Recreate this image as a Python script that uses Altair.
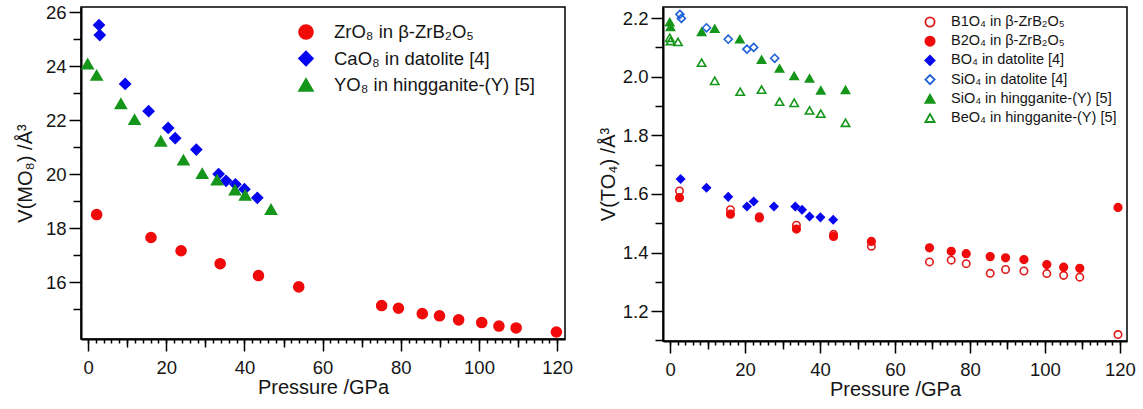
import altair as alt
import pandas as pd

FONT = "Liberation Sans"

# ---------------- Left panel data (MO8 polyhedra) ----------------
left_names = ["ZrO₈ in β-ZrB₂O₅", "CaO₈ in datolite [4]", "YO₈ in hingganite-(Y) [5]"]
zr_p = [2.2, 16.1, 23.8, 33.8, 43.6, 53.9, 75.1, 79.4, 85.5, 89.9, 94.8, 100.7, 105.1, 109.5, 119.8]
zr_v = [18.51, 17.66, 17.17, 16.69, 16.25, 15.83, 15.14, 15.04, 14.84, 14.76, 14.61, 14.51, 14.38, 14.31, 14.16]
ca_p = [2.8, 3.0, 9.5, 15.5, 20.5, 22.3, 27.7, 33.4, 35.3, 37.7, 40.0, 43.3]
ca_v = [25.53, 25.16, 23.35, 22.34, 21.72, 21.34, 20.92, 20.01, 19.76, 19.63, 19.45, 19.13]
yo_p = [-0.1, 2.2, 8.4, 11.9, 18.6, 24.4, 29.2, 33.0, 37.6, 40.2, 46.8]
yo_v = [24.09, 23.67, 22.62, 22.03, 21.23, 20.53, 20.03, 19.79, 19.42, 19.23, 18.70]

# ---------------- Right panel data (TO4 tetrahedra) ----------------
right_names = ["B1O₄ in β-ZrB₂O₅", "B2O₄ in β-ZrB₂O₅", "BO₄ in datolite [4]",
               "SiO₄ in datolite [4]", "SiO₄ in hingganite-(Y) [5]", "BeO₄ in hingganite-(Y) [5]"]
b1_p = [2.5, 16.1, 23.8, 33.7, 43.6, 53.7, 69.2, 75.0, 79.0, 85.4, 89.5, 94.4, 100.5, 105.0, 109.3, 119.5]
b1_v = [1.610, 1.546, 1.522, 1.493, 1.462, 1.421, 1.368, 1.374, 1.362, 1.329, 1.342, 1.337, 1.328, 1.322, 1.316, 1.120]
b2_p = [2.5, 16.1, 23.8, 33.7, 43.6, 53.7, 69.2, 75.0, 79.0, 85.4, 89.5, 94.4, 100.5, 105.0, 109.3, 119.5]
b2_v = [1.587, 1.531, 1.518, 1.480, 1.455, 1.438, 1.416, 1.404, 1.396, 1.386, 1.382, 1.376, 1.359, 1.350, 1.346, 1.554]
bo_p = [2.8, 9.7, 15.5, 20.5, 22.3, 27.7, 33.4, 35.2, 37.2, 40.1, 43.5]
bo_v = [1.651, 1.621, 1.590, 1.557, 1.574, 1.557, 1.557, 1.546, 1.523, 1.520, 1.512]
sid_p = [2.6, 3.0, 9.7, 15.5, 20.5, 22.3, 27.9]
sid_v = [2.213, 2.199, 2.167, 2.128, 2.094, 2.100, 2.063]
sih_p = [-0.1, 0.1, 8.4, 11.9, 18.6, 24.4, 29.2, 33.1, 37.2, 40.2, 46.8]
sih_v = [2.186, 2.170, 2.153, 2.164, 2.128, 2.058, 2.028, 2.003, 1.994, 1.953, 1.955]
be_p = [-0.1, 0.1, 2.1, 8.4, 11.9, 18.7, 24.4, 29.2, 33.1, 37.2, 40.2, 46.8]
be_v = [2.133, 2.122, 2.119, 2.048, 1.986, 1.949, 1.956, 1.915, 1.911, 1.885, 1.874, 1.843]

x_major = [0, 20, 40, 60, 80, 100, 120]
x_mid = [10, 30, 50, 70, 90, 110]
x_minor = list(range(0, 121, 2))
left_y_major = [16, 18, 20, 22, 24, 26]
left_y_minor = [15, 17, 19, 21, 23, 25]
right_y_major = [1.2, 1.4, 1.6, 1.8, 2.0, 2.2]
right_y_minor = [1.1, 1.3, 1.5, 1.7, 1.9, 2.1]


def frame(names, ps, vs):
    rows = []
    for i, (n, p, v) in enumerate(zip(names, ps, vs)):
        for a, b in zip(p, v):
            rows.append({"series": n, "idx": i, "P": a, "V": b})
    return pd.DataFrame(rows)


left_df = frame(left_names, [zr_p, ca_p, yo_p], [zr_v, ca_v, yo_v])
right_df = frame(right_names, [b1_p, b2_p, bo_p, sid_p, sih_p, be_p],
                 [b1_v, b2_v, bo_v, sid_v, sih_v, be_v])

RED = "#f00a0a"
RED_O = "#e01a1a"
BLUE = "#0505f0"
BLUE_O = "#1c5fd8"
GREEN = "#15961a"
TXT = "#151515"


def panel(df, names, fills, strokes, shapes, sizes, xdom, ydom, ymaj, ymin, ytitle,
          w, h, ytitle_pad, leg):
    xs = alt.Scale(domain=xdom, nice=False, zero=False)
    ys = alt.Scale(domain=ydom, nice=False, zero=False)
    fill_s = alt.Scale(domain=names, range=fills)
    stroke_s = alt.Scale(domain=names, range=strokes)
    shape_s = alt.Scale(domain=names, range=shapes)

    main = alt.Chart(df).mark_point(filled=True, opacity=1, strokeWidth=1.6).encode(
        x=alt.X("P:Q", scale=xs, axis=alt.Axis(
            values=x_major, title="Pressure /GPa", orient="bottom", tickSize=12,
            labelPadding=7, titlePadding=1, grid=False)),
        y=alt.Y("V:Q", scale=ys, axis=alt.Axis(
            values=ymaj, title=ytitle, orient="left", tickSize=12, labelPadding=3,
            titlePadding=ytitle_pad, grid=False, format=leg["fmt"])),
        fill=alt.Fill("series:N", scale=fill_s, legend=None),
        stroke=alt.Stroke("series:N", scale=stroke_s, legend=None),
        shape=alt.Shape("series:N", scale=shape_s, legend=None),
        size=alt.Size("series:N", scale=alt.Scale(domain=names, range=sizes), legend=None),
        order=alt.Order("idx:Q"),
    )

    def tick_layer(vals, size, channel):
        if channel == "x":
            return alt.Chart(df).mark_point(opacity=0).encode(
                x=alt.X("P:Q", scale=xs, axis=alt.Axis(values=vals, tickSize=size, labels=False,
                                                      domain=False, title=None, orient="bottom",
                                                      grid=False)),
                y=alt.Y("V:Q", scale=ys, axis=None))
        return alt.Chart(df).mark_point(opacity=0).encode(
            x=alt.X("P:Q", scale=xs, axis=None),
            y=alt.Y("V:Q", scale=ys, axis=alt.Axis(values=vals, tickSize=size, labels=False,
                                                  domain=False, title=None, orient="left",
                                                  grid=False)))

    # legend built from the series names, rows placed by a point scale
    leg_df = pd.DataFrame({"series": names, "idx": list(range(len(names)))})
    row_s = alt.Scale(domain=list(range(len(names))), range=[leg["y0"], leg["y1"]], padding=0)
    leg_sym = alt.Chart(leg_df).mark_point(filled=True, opacity=1, strokeWidth=1.8,
                                           size=leg["ss"]).encode(
        x=alt.value(leg["sx"]),
        y=alt.Y("idx:O", scale=row_s, axis=None),
        fill=alt.Fill("series:N", scale=fill_s, legend=None),
        stroke=alt.Stroke("series:N", scale=stroke_s, legend=None),
        shape=alt.Shape("series:N", scale=shape_s, legend=None),
    )
    leg_txt = alt.Chart(leg_df).mark_text(align="left", baseline="middle", font=FONT,
                                          fontSize=leg["fs"], color=TXT).encode(
        x=alt.value(leg["tx"]),
        y=alt.Y("idx:O", scale=row_s, axis=None),
        text="series:N",
    )

    layers = [tick_layer(x_minor, 4, "x"), tick_layer(x_mid, 8, "x"),
              tick_layer(ymin, 8, "y"), main, leg_sym, leg_txt]
    return alt.layer(*layers).resolve_axis(x="independent", y="independent").resolve_scale(
        y="independent").properties(width=w, height=h)


left = panel(left_df, left_names,
             fills=[RED, BLUE, GREEN], strokes=[RED, BLUE, GREEN],
             shapes=["circle", "diamond", "triangle-up"], sizes=[100, 120, 100],
             xdom=[-1.8, 122], ydom=[13.9, 26.2], ymaj=left_y_major, ymin=left_y_minor,
             ytitle="V(MO₈) /Å³", w=484, h=332, ytitle_pad=10,
             leg={"sx": 225, "tx": 253, "y0": 25, "y1": 78, "fs": 18.5, "ss": 190, "fmt": "d"})

right = panel(right_df, right_names,
              fills=["transparent", RED, BLUE, "transparent", GREEN, "transparent"],
              strokes=[RED_O, RED, BLUE, BLUE_O, GREEN, GREEN],
              shapes=["circle", "circle", "diamond", "diamond", "triangle-up", "triangle-up"],
              sizes=[55, 70, 130, 100, 110, 100],
              xdom=[-1.9, 121.9], ydom=[1.098, 2.238], ymaj=right_y_major, ymin=right_y_minor,
              ytitle="V(TO₄) /Å³", w=464, h=334, ytitle_pad=4,
              leg={"sx": 267, "tx": 288, "y0": 15, "y1": 111, "fs": 14.5, "ss": 85, "fmt": ".1f"})

chart = alt.hconcat(left, right, spacing=23).resolve_scale(
    fill="independent", stroke="independent", shape="independent", size="independent"
).properties(
    padding={"left": 14, "top": 2, "right": 0, "bottom": 0}
).configure(background="white").configure_view(
    stroke="black", strokeWidth=1.5
).configure_axis(
    domainColor="black", domainWidth=2, tickColor="black", tickWidth=1.5,
    labelFont=FONT, labelFontSize=18.5, labelColor=TXT,
    titleFont=FONT, titleFontSize=20, titleFontWeight="normal", titleColor=TXT,
)

chart.save("out.html", embed_options={"renderer": "svg", "actions": False})
